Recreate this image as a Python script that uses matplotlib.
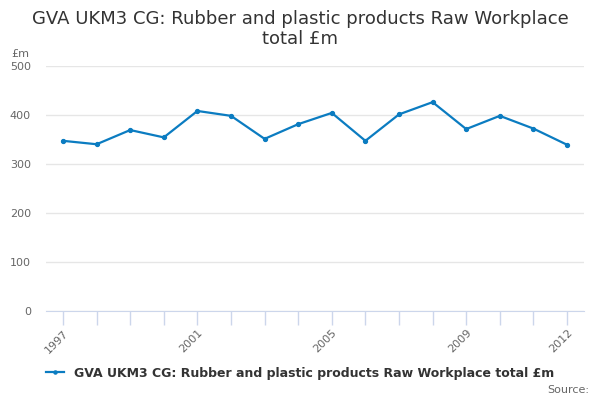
import numpy as np
import matplotlib
matplotlib.use("Agg")
import matplotlib.pyplot as plt

years = [str(y) for y in range(1997, 2013)]
values = [348, 341, 370, 355, 409, 399, 352, 382, 405, 348, 402, 427, 372, 399, 373, 340]
label_years = ["1997", "2001", "2005", "2009", "2012"]
yticks = [0, 100, 200, 300, 400, 500]
series_name = "GVA UKM3 CG: Rubber and plastic products Raw Workplace total £m"

line_col = "#0b7cc1"
grid_col = "#e6e6e6"
axis_col = "#ccd6eb"
text_col = "#666666"

fig = plt.figure(figsize=(6, 4), dpi=100)
ax = fig.add_axes([0.077, 0.222, 0.896, 0.612])

x = np.arange(len(years))
ax.plot(x, values, color=line_col, lw=1.6, marker="o", ms=2.8, label=series_name)

ax.set_xlim(-0.5, len(years) - 0.5)
ax.set_ylim(0, 500)
ax.set_yticks(yticks)
ax.set_yticklabels([str(v) for v in yticks], color=text_col, fontsize=8)
ax.yaxis.grid(True, color=grid_col, lw=1)
ax.set_axisbelow(True)
ax.tick_params(axis="y", length=0, pad=11)

ax.set_xticks(x)
ax.set_xticklabels([y if y in label_years else "" for y in years],
                   rotation=45, ha="right", rotation_mode="anchor",
                   color=text_col, fontsize=8)
ax.tick_params(axis="x", length=10, color=axis_col, width=1, pad=2)

for s in ["top", "right", "left"]:
    ax.spines[s].set_visible(False)
ax.spines["bottom"].set_color(axis_col)

fig.text(0.018, 0.858, "£m", color=text_col, fontsize=8, ha="left")
fig.text(0.5, 0.975, "GVA UKM3 CG: Rubber and plastic products Raw Workplace\ntotal £m",
         ha="center", va="top", fontsize=13, color="#333333", linespacing=1.15)

leg = fig.legend(loc="center", bbox_to_anchor=(0.5, 0.067), frameon=False,
                 prop={"size": 9, "weight": "bold"}, handlelength=1.5,
                 markerscale=0.8)
for t in leg.get_texts():
    t.set_color("#333333")

fig.text(0.982, 0.025, "Source:", ha="right", va="center", color=text_col, fontsize=8)

fig.savefig("out.png", dpi=100)
